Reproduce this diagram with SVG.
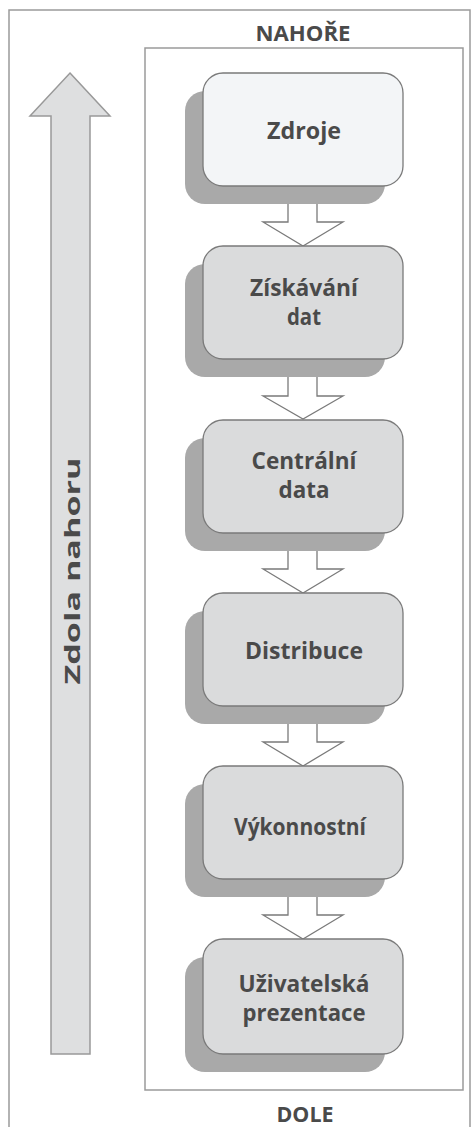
<svg xmlns="http://www.w3.org/2000/svg" width="473" height="1127" viewBox="0 0 473 1127">
<style>
.lbl{font-family:"Open Sans","Liberation Sans",sans-serif;font-weight:bold;font-size:22px;fill:#4a4a4a;text-anchor:middle}
.nl{font-size:23px}
.box{fill:#dadbdc;stroke:#7a7a7a;stroke-width:1.3}
.box0{fill:#f3f5f7;stroke:#7a7a7a;stroke-width:1.3}
.shadow{fill:#a9a9a9}
.conn{fill:#ffffff;stroke:#7a7a7a;stroke-width:1.3;stroke-linejoin:miter}
.frame{fill:none;stroke:#9a9a9a;stroke-width:1.5}
</style>
<rect width="473" height="1127" fill="#ffffff"/>
<rect class="frame" x="9" y="10" width="461" height="1125"/>
<rect class="frame" x="145" y="48" width="318" height="1042" stroke="#888"/>
<text class="lbl" x="303" y="41" textLength="95" lengthAdjust="spacingAndGlyphs">NAHOŘE</text>
<text class="lbl" x="305" y="1122" textLength="57" lengthAdjust="spacingAndGlyphs">DOLE</text>
<g id="bigarrow">
<path d="M70 73 L110 116 L90 116 L90 1054 L51 1054 L51 116 L30 116 Z" fill="#dedfe0" stroke="#999" stroke-width="1.5"/>
<text class="lbl" transform="translate(80,571) rotate(-90)" x="0" y="0" textLength="227" lengthAdjust="spacingAndGlyphs">Zdola nahoru</text>
</g>
<g id="connectors">
<path class="conn" d="M288 204 L288 222 L263 222 L303 246 L343 222 L317 222 L317 204"/>
<path class="conn" d="M288 377 L288 396 L263 396 L303 419 L343 396 L317 396 L317 377"/>
<path class="conn" d="M288 551 L288 569 L263 569 L303 593 L343 569 L317 569 L317 551"/>
<path class="conn" d="M288 724 L288 742 L263 742 L303 766 L343 742 L317 742 L317 724"/>
<path class="conn" d="M288 897 L288 915 L263 915 L303 939 L343 915 L317 915 L317 897"/>
</g>
<g id="n1">
<rect class="shadow" x="185" y="91" width="200" height="113" rx="20"/>
<rect class="box0" x="203" y="73" width="200" height="113" rx="20"/>
<text class="lbl nl" x="304" y="139" textLength="74" lengthAdjust="spacingAndGlyphs">Zdroje</text>
</g>
<g id="n2">
<rect class="shadow" x="185" y="264" width="200" height="113" rx="20"/>
<rect class="box" x="203" y="246" width="200" height="113" rx="20"/>
<text class="lbl nl" x="304" y="296" textLength="108" lengthAdjust="spacingAndGlyphs">Získávání</text>
<text class="lbl nl" x="304" y="325" textLength="34" lengthAdjust="spacingAndGlyphs">dat</text>
</g>
<g id="n3">
<rect class="shadow" x="185" y="438" width="200" height="113" rx="20"/>
<rect class="box" x="203" y="420" width="200" height="113" rx="20"/>
<text class="lbl nl" x="304" y="469" textLength="105" lengthAdjust="spacingAndGlyphs">Centrální</text>
<text class="lbl nl" x="304" y="498" textLength="51" lengthAdjust="spacingAndGlyphs">data</text>
</g>
<g id="n4">
<rect class="shadow" x="185" y="611" width="200" height="113" rx="20"/>
<rect class="box" x="203" y="593" width="200" height="113" rx="20"/>
<text class="lbl nl" x="304" y="659" textLength="118" lengthAdjust="spacingAndGlyphs">Distribuce</text>
</g>
<g id="n5">
<rect class="shadow" x="185" y="784" width="200" height="113" rx="20"/>
<rect class="box" x="203" y="766" width="200" height="113" rx="20"/>
<text class="lbl nl" x="300" y="835" textLength="132" lengthAdjust="spacingAndGlyphs">Výkonnostní</text>
</g>
<g id="n6">
<rect class="shadow" x="185" y="957" width="200" height="115" rx="20"/>
<rect class="box" x="203" y="939" width="200" height="115" rx="20"/>
<text class="lbl nl" x="304" y="992" textLength="131" lengthAdjust="spacingAndGlyphs">Uživatelská</text>
<text class="lbl nl" x="304" y="1021" textLength="123" lengthAdjust="spacingAndGlyphs">prezentace</text>
</g>
</svg>
